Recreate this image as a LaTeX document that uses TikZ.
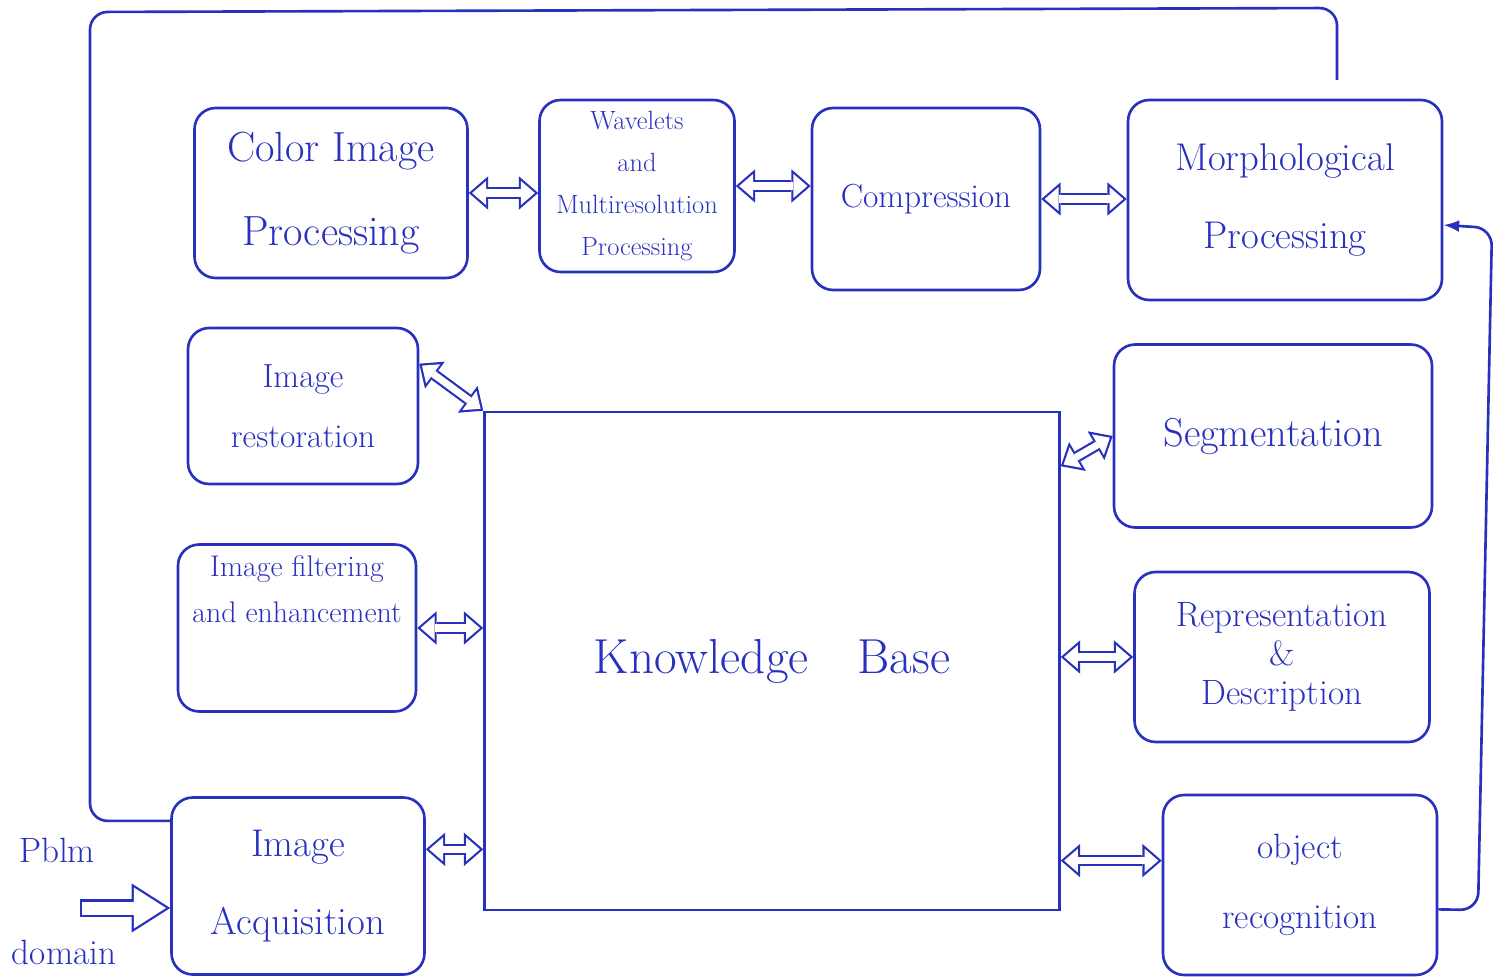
\documentclass[tikz,border=0pt]{standalone}
\usetikzlibrary{arrows.meta}
\definecolor{ink}{RGB}{40,48,190}

\tikzset{
    outtip/.tip={Triangle[length=11pt, width=19pt, line width=0pt]},
    intip/.tip={Triangle[length=7.9pt, width=13.6pt, line width=0pt]},
    bigout/.tip={Triangle[length=22pt, width=28pt, line width=0pt]},
    bigin/.tip={Triangle[length=18.3pt, width=23.3pt, line width=0pt]},
    onearr/.style={draw=ink, line width=10pt, -bigout,
        postaction={draw=white, line width=7.4pt, shorten >=2.4pt, shorten <=1.3pt, -bigin}},
    dbl/.style={draw=ink, line width=6.5pt, outtip-outtip,
        postaction={draw=white, line width=4pt, shorten >=1.9pt, shorten <=1.9pt, intip-intip}}
}

\begin{document}
\begin{tikzpicture}[x=0.02cm, y=-0.02cm, line width=1.5pt, ink,
    blk/.style={draw, rounded corners=12pt, align=center, inner sep=2pt}]
    \useasboundingbox (0,0) rectangle (1504,979);
    \begin{scope}[every node/.style={blk}]
        \node[minimum width=5.46cm, minimum height=3.4cm, font=\fontsize{24}{48}\selectfont](1) at (331,193) {Color Image\\Processing};
        \node[minimum width=3.9cm, minimum height=3.44cm, font=\fontsize{15}{24}\selectfont](2) at (637,186) {Wavelets\\and\\Multiresolution\\Processing};
        \node[minimum width=4.56cm, minimum height=3.64cm, font=\fontsize{19}{24}\selectfont](3) at (926,199) {Compression};
        \node[minimum width=6.28cm, minimum height=4cm, font=\fontsize{22}{44}\selectfont](4) at (1285,200) {Morphological\\Processing};
        \node[minimum width=4.6cm, minimum height=3.12cm, font=\fontsize{19}{34}\selectfont](5) at (303,406) {Image\\restoration};
        \node[minimum width=4.76cm, minimum height=3.34cm, font=\fontsize{17}{26}\selectfont](6) at (297,628) {Image filtering\\and enhancement\\[18pt]};
        \node[minimum width=5.06cm, minimum height=3.54cm, font=\fontsize{22}{44}\selectfont](7) at (298,886) {Image\\Acquisition};
        \node[rounded corners=0pt, minimum width=11.5cm, minimum height=9.96cm, font=\fontsize{28}{34}\selectfont](8) at (772,661) {Knowledge\quad Base};
        \node[minimum width=6.36cm, minimum height=3.66cm, font=\fontsize{23}{30}\selectfont](9) at (1273,436) {Segmentation};
        \node[minimum width=5.9cm, minimum height=3.4cm, font=\fontsize{20}{22}\selectfont](10) at (1282,657) {Representation\\\&\\Description};
        \node[minimum width=5.48cm, minimum height=3.6cm, font=\fontsize{20}{40}\selectfont](11) at (1300,885) {object\\recognition};
    \end{scope}
    \node[font=\fontsize{20}{24}\selectfont](12) at (57,850) {Pblm};
    \node[font=\fontsize{20}{24}\selectfont](13) at (64,952) {domain};
    \coordinate(tl) at (90,12);
    \coordinate(tr) at (1337,8);
    \coordinate(te) at (1337,80);
    \coordinate(rt) at (1492,228);
    \coordinate(rb) at (1478,910);
    \coordinate(pd) at (80,908);
    % feedback lines
    \draw[rounded corners=10pt] (7.153) -| (tl) -- (tr) -- (te);
    \draw[rounded corners=10pt, -{Latex[length=9pt]}] (11.-10) -- (rb) -- (rt) -- (4.-9);
    % links between the blocks
    \path[dbl] (1.east) -- (1.east -| 2.west);
    \path[dbl] (2.east) -- (2.east -| 3.west);
    \path[dbl] (3.east) -- (3.east -| 4.west);
    \path[dbl] (5.20) -- (8.north west);
    \path[dbl] (6.east) -- (6.east -| 8.west);
    \path[dbl] (7.16) -- (7.16 -| 8.west);
    \path[dbl] (8.34) -- (9.west);
    \path[dbl] (8.east |- 10.west) -- (10.west);
    \path[dbl] (8.east |- 11.170) -- (11.170);
    \path[onearr] (pd) -- (7.west |- pd);
\end{tikzpicture}
\end{document}
